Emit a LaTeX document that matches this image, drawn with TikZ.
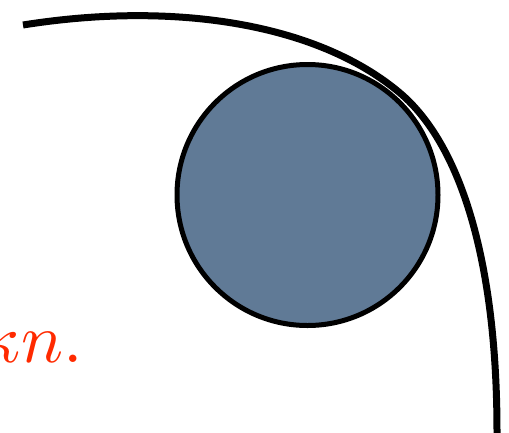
\documentclass[tikz,border=0pt]{standalone}
\definecolor{ballblue}{RGB}{96,122,150}
\definecolor{labelred}{RGB}{255,42,0}
\begin{document}
\begin{tikzpicture}[x=1pt,y=-1pt,
  ball/.style={circle,draw=black,line width=5pt,fill=ballblue,minimum size=261pt,inner sep=0pt},
  wall/.style={line width=7pt,line cap=butt},
  lbl/.style={text=labelred,inner sep=0pt,scale=7}]
\useasboundingbox (0,0) rectangle (509,432);
\node[ball] (b) at (307.5,195) {};
\coordinate (w0) at (23,25);
\coordinate (w1) at (400,93);
\coordinate (w2) at (497,432);
\coordinate (w3) at (497,440);
\draw[wall] (w0) .. controls (171,1.4) and (316,22) .. (w1)
  .. controls (461,144.7) and (497,262) .. (w2) -- (w3);
\node[lbl,anchor=base east] (t) at (84,362) {$\kappa n.$};
\end{tikzpicture}
\end{document}
